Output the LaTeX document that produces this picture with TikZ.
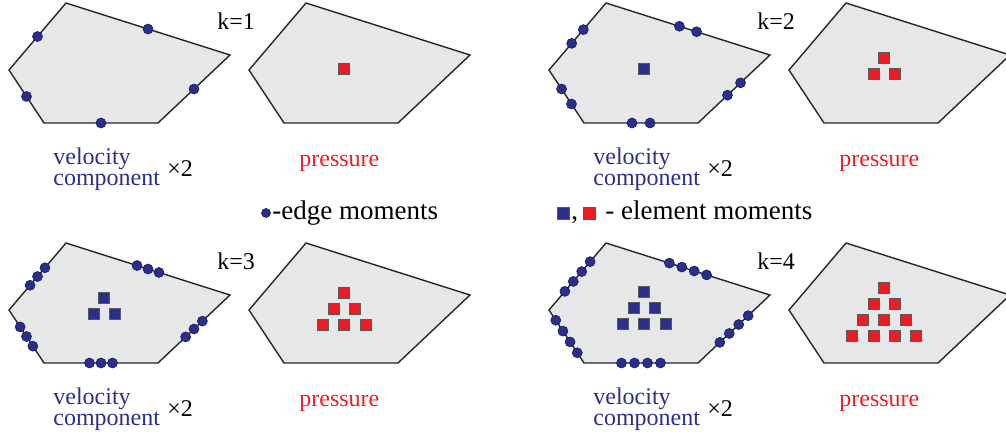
\documentclass[tikz,border=0pt]{standalone}
\usepackage{fontspec}
\setmainfont{Liberation Serif}
\usepackage{xcolor}
\usepackage{tikz}
\usetikzlibrary{calc, positioning}

\definecolor{velblue}{RGB}{43,46,140}
\definecolor{presred}{RGB}{237,28,36}
\definecolor{cellgray}{RGB}{230,231,232}

% polygonal cell, coordinates in pixels
\newcommand{\cellshape}{%
  \coordinate (v1) at (66,3);
  \coordinate (v2) at (230,55);
  \coordinate (v3) at (158,123);
  \coordinate (v4) at (44,123);
  \coordinate (v5) at (9,70);
  \filldraw[cell] (v1) -- (v2) -- (v3) -- (v4) -- (v5) -- cycle;}

% #1 dots per edge, #2 spacing
\newcommand{\edgemoments}[2]{%
  \foreach \p/\q in {v1/v2,v2/v3,v3/v4,v4/v5,v5/v1}{
    \coordinate (m) at ($(\p)!0.5!(\q)$);
    \foreach \j in {1,...,#1}
      \filldraw[edgedot] ($(m)!{(\j-(#1+1)/2)*#2*0.5pt}!(\q)$) circle[radius=5];
  }}

% #1 rows, #2 y of top row, #3 style
\newcommand{\elemmoments}[3]{%
  \foreach \r in {1,...,#1}
    \foreach \c in {1,...,\r}
      \draw[#3] ({104.3+(\c-(\r+1)/2)*21.3-5.5},{#2+(\r-1)*16-5.5})
        rectangle ++(11,11);}

% #1 k, #2/#3 edge dots, #4/#5 velocity rows, #6/#7 pressure rows
\newcommand{\panel}[7]{%
  \cellshape
  \edgemoments{#2}{#3}
  \ifnum#4>0 \elemmoments{#4}{#5}{velsq}\fi
  \node[vellbl] (vel#1)  at (53,185) {velocity\\component};
  \node[lbl]    (mult#1) at (167,176) {×2};
  \node[lbl]    (k#1)    at (217,29) {k=#1};
  \begin{scope}[shift={(240,0)}]
    \cellshape
    \elemmoments{#6}{#7}{pressq}
    \node[preslbl] (pres#1) at (59,166) {pressure};
  \end{scope}}

\begin{document}
\begin{tikzpicture}[
    x=0.5pt, y=-0.5pt,
    font=\fontsize{12}{14}\selectfont,
    cell/.style={fill=cellgray, draw=black!85, line width=0.7pt},
    edgedot/.style={fill=velblue, draw=velblue!60!black, line width=0.3pt},
    velsq/.style={fill=velblue, draw=black!65, line width=0.4pt},
    pressq/.style={fill=presred, draw=black!65, line width=0.4pt},
    lbl/.style={anchor=base west, inner sep=0pt},
    vellbl/.style={lbl, text=velblue, align=left,
                   font=\fontsize{12}{9}\selectfont},
    preslbl/.style={lbl, text=presred},
    leglbl/.style={lbl, font=\fontsize{13.5}{15}\selectfont}
]
\useasboundingbox (0,0) rectangle (1006,441);

\begin{scope}[shift={(0,0)}]
  \panel{1}{1}{0}{0}{0}{1}{68.7}
\end{scope}
\begin{scope}[shift={(540,0)}]
  \panel{2}{2}{18}{1}{68.7}{2}{58.3}
\end{scope}
\begin{scope}[shift={(0,240)}]
  \panel{3}{3}{11.5}{2}{58.3}{3}{52.7}
\end{scope}
\begin{scope}[shift={(540,240)}]
  \panel{4}{4}{13}{3}{51.7}{4}{47.7}
\end{scope}

% legend
\filldraw[edgedot] (266,213) coordinate (legdot) circle[radius=4.5];
\node[leglbl] (edgelbl) at (272,219) {-edge moments};
\draw[velsq] (557,207) rectangle ++(12,12);
\node[leglbl] (comma) at (571,219) {,};
\draw[pressq] (583,207) rectangle ++(12,12);
\node[leglbl] (elemlbl) at (605,219) {- element moments};
\end{tikzpicture}
\end{document}
